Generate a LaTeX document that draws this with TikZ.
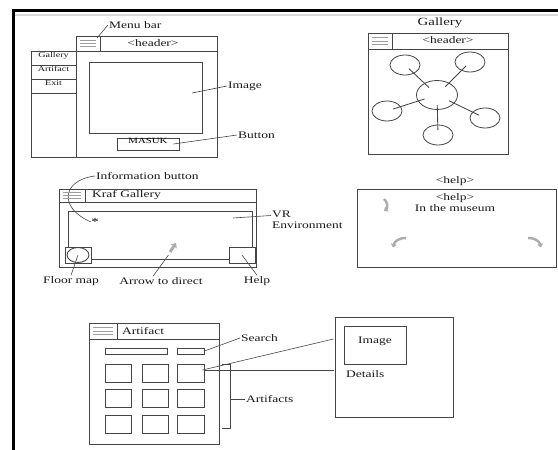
\documentclass[tikz,border=0pt]{standalone}
\usepackage{fontspec}
\setmainfont{Liberation Serif}[FakeStretch=1.35]
\usepackage{xcolor}
\usepackage{tikz}
\usetikzlibrary{shapes.geometric,arrows.meta,positioning,calc,fit}
\definecolor{edge}{gray}{0.27}
\tikzset{
  frame/.style={rectangle, draw=edge, line width=0.95pt, inner sep=0pt},
  tag/.style={font=\fontsize{10}{11}\selectfont, inner sep=1pt, text=black!90},
  small/.style={font=\fontsize{7.5}{9}\selectfont, text=black!90},
  leader/.style={draw=edge, line width=0.6pt},
  bars/.style={draw=gray!75, line width=0.5pt},
  bubble/.style={ellipse, draw=edge, line width=0.8pt, minimum width=30pt,
                 minimum height=20pt, inner sep=0pt},
  hint/.style={draw=gray!65, line width=2.4pt, -{Triangle[length=3.5pt,width=6pt]}}
}

\begin{document}
\begin{tikzpicture}[x=1pt, y=-1pt]
  \useasboundingbox (0,0) rectangle (558,450);
  % --- Page frame ---
  \draw[gray!30, line width=2pt] (15,14.8) -- (558,14.8);
  \draw[line width=2.5pt] (11.5,10.7) -- (558,10.7);
  \draw[line width=3pt] (13,9.5) -- (13,450);

  % --- Home screen ---
  \node[frame, fit={(76,36) (217,157)}] (H) {};
  \node[frame, fit={(76,36) (217,51)}] (Hbar) {};
  \node[frame, fit={(76,36) (100,51)}] (Hicon) {};
  \node[tag] (Hhead) at (153,43.5) {<header>};
  \node[frame, fit={(31,51) (76,157)}] (Side) {};
  \node[frame, small, fit={(31,51) (76,65)}] (mGal) {Gallery};
  \node[frame, small, fit={(31,65) (76,79)}] (mArt) {Artifact};
  \node[frame, small, fit={(31,79) (76,93)}] (mExit) {Exit};
  \node[frame, fit={(89,62) (202,133)}] (Himg) {};
  \node[frame, font=\fontsize{8}{9}\selectfont, fit={(117,138) (179,150)}] (Hbtn) {MASUK};
  \node[tag, anchor=west] (lMenu) at (108,25) {Menu bar};
  \node[tag, anchor=west] (lImg) at (227,86) {Image};
  \node[tag, anchor=west] (lBtn) at (237,135) {Button};
  \coordinate (pMenu) at (97,38);
  \coordinate (pImg) at (192,93);
  \draw[leader] (pMenu) -- (lMenu.west);
  \draw[leader] (pImg) -- (lImg.west);
  \draw[leader] ($(Hbtn.east)+(-6,0)$) -- (lBtn.west);

  % --- Gallery screen ---
  \node[tag, font=\fontsize{11}{12}\selectfont] (Gtitle) at (440,23) {Gallery};
  \node[frame, fit={(368,33) (508,154)}] (G) {};
  \node[frame, fit={(368,33) (508,49)}] (Gbar) {};
  \node[frame, fit={(368,33) (392,49)}] (Gicon) {};
  \node[tag] (Ghead) at (448,40.5) {<header>};
  \node[bubble, minimum width=41pt, minimum height=29pt] (C) at (437,95) {};
  \node[bubble] (b1) at (405,65) {};
  \node[bubble] (b2) at (470,62) {};
  \node[bubble] (b3) at (387,111) {};
  \node[bubble] (b4) at (485,118) {};
  \node[bubble] (b5) at (438,135) {};
  \foreach \b in {b1,b2,b3,b4,b5}
    \draw[leader, line width=0.85pt] ($(\b)!0.12!(C)$) -- ($(\b)!0.75!(C)$);

  % --- VR screen ---
  \node[tag, anchor=west] (lInfo) at (95,176) {Information button};
  \node[frame, fit={(59,189) (256,267)}] (V) {};
  \node[frame, fit={(59,189) (256,202)}] (Vbar) {};
  \node[frame, fit={(59,189) (85,202)}] (Vicon) {};
  \node[tag, anchor=west] (Vhead) at (91,195.5) {Kraf Gallery};
  \node[frame, fit={(68,211) (252,259)}] (Env) {};
  \node[frame, fill=white, fit={(65,247) (91,263)}] (Map) {};
  \node[ellipse, draw=edge, line width=0.9pt, minimum width=22pt,
        minimum height=15pt, inner sep=0pt] (MapC) at (Map) {};
  \node[frame, fill=white, fit={(229,247) (255,263)}] (HelpB) {};
  \node[inner sep=0pt, font=\fontsize{11}{11}\selectfont] (Star) at (95,222) {*};
  \draw[leader] (lInfo.west) .. controls (62,180) and (58,208) .. (Star.west);
  \node[tag, anchor=west, align=left] (lVR) at (271,219.5) {VR\\Environment};
  \coordinate (pVR) at (233,218);
  \draw[leader] (pVR) -- ($(lVR.west)+(0,-4)$);
  \draw[hint, line width=3pt, -{Triangle[length=4pt,width=7pt]}] (170,252) -- (176,243);
  \coordinate (pArrow) at (168.5,255);
  \node[tag] (lArrow) at (161,281) {Arrow to direct};
  \node[tag] (lMap) at (71,281) {Floor map};
  \node[tag] (lHelp) at (257,281) {Help};
  \draw[leader] (pArrow) -- ($(lArrow.north)+(-8,0)$);
  \draw[leader] (MapC.center) -- (lMap.north);
  \draw[leader] (HelpB.center) -- (lHelp.north);

  % --- Help screen ---
  \node[tag] (Ptitle) at (455,181) {<help>};
  \node[frame, fit={(357,189) (556,267)}] (P) {};
  \node[tag, align=center] (Ptext) at (455,202.5) {<help>\\In the museum};
  \draw[hint] (384,199) to[bend left=55] (384,211);
  \draw[hint] (406,238) to[bend right=40] (393,247.5);
  \draw[hint] (528,238) to[bend left=40] (541,247.5);

  % --- Artifact screen ---
  \node[frame, fit={(89,323) (219,444)}] (A) {};
  \node[frame, fit={(89,323) (219,339)}] (Abar) {};
  \node[frame, fit={(89,323) (117,339)}] (Aicon) {};
  \node[tag, anchor=west] (Ahead) at (121,331) {Artifact};
  \node[frame, fit={(105,348) (167,354)}] (Sbar) {};
  \node[frame, fit={(177,348) (204,354)}] (Sbtn) {};
  \foreach \c/\xa/\xb in {1/105/131, 2/142/168, 3/177/204}
    \foreach \r/\ya/\yb in {1/364/382, 2/389/407, 3/415/433}
      \node[frame, fit={(\xa,\ya) (\xb,\yb)}] (g\r\c) {};
  \draw[leader, line width=0.8pt] (222,364) -- (230,364) -- (230,428) -- (222,428);
  \coordinate (brMid) at (230,399);
  \node[tag, anchor=west] (lArts) at (245,399) {Artifacts};
  \node[tag, anchor=west] (lSearch) at (240,338) {Search};
  \draw[leader] (brMid) -- (lArts.west);
  \draw[leader] (Sbtn.east) -- (lSearch.west);

  % --- Details screen ---
  \node[frame, fit={(335,317) (453,417)}] (D) {};
  \node[frame, font=\fontsize{10}{11}\selectfont, text=black!90,
        fit={(344,326) (406,364)}] (Dimg) {Image};
  \node[tag, anchor=west] (lDet) at (345,374) {Details};
  \coordinate (dA) at (333.5,339);
  \coordinate (dB) at (333.5,370);
  \draw[leader] ($(g13.east)+(-2,-3)$) -- (dA);
  \draw[leader] ($(g13.east)+(0,-3)$) -- (dB);

  % --- Menu icons ---
  \foreach \ic in {Hicon,Gicon,Vicon,Aicon}
    \foreach \k in {0.3,0.5,0.7}
      \draw[bars] ($(\ic.north west)!\k!(\ic.south west)+(4,0)$) --
                  ($(\ic.north east)!\k!(\ic.south east)+(-4,0)$);
\end{tikzpicture}
\end{document}
